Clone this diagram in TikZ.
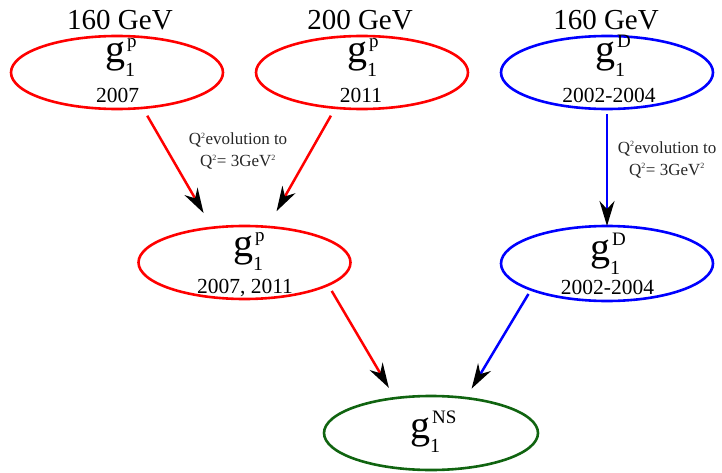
\documentclass[tikz,border=0pt]{standalone}
\usepackage{fontspec}
\setmainfont{Liberation Serif}
\usetikzlibrary{arrows.meta,shapes.geometric,positioning}
\definecolor{darkgreen}{RGB}{16,100,16}
% g_1 with an upper index, written in pt of the picture
\newcommand{\gone}[1]{{\fontsize{40}{40}\selectfont g}\rlap{\kern2pt\raisebox{15pt}{\fontsize{19}{19}\selectfont #1}}\raisebox{-14pt}{\fontsize{20}{20}\selectfont 1}}
\newcommand{\sq}{\textsuperscript{\fontsize{8}{8}\selectfont 2}}

\begin{document}
\begin{tikzpicture}[
            x=1pt, y=-1pt,
            blob/.style={draw, ellipse, line width=2.6pt, outer sep=0pt, minimum width=212pt, minimum height=73pt},
            gtext/.style={anchor=base west, inner sep=0pt},
            year/.style={anchor=base, inner sep=0pt, font=\fontsize{21.5}{21.5}\selectfont},
            energy/.style={anchor=base, inner sep=0pt, font=\fontsize{29}{29}\selectfont},
            note/.style={align=center, inner sep=0pt, font=\fontsize{17}{22}\selectfont, text=black!85},
            flow/.style={line width=2.5pt, -{Stealth[black, length=25pt, width=15pt, inset=8pt]}}
        ]
            \useasboundingbox (0,0) rectangle (722,473);
            % top row
            \node [blob, red] (p07) at (117,72.5) {};
            \node [blob, red] (p11) at (362,72.5) {};
            \node [blob, blue] (d04) at (607,72.5) {};
            \node [energy] (e1) at (120,30) {160 GeV};
            \node [energy] (e2) at (360,30) {200 GeV};
            \node [energy] (e3) at (606,30) {160 GeV};
            \node [gtext] (p07g) at (105,63) {\gone{p}};
            \node [gtext] (p11g) at (347,63) {\gone{p}};
            \node [gtext] (d04g) at (595,63) {\gone{D}};
            \node [year] (p07y) at (117.5,103) {2007};
            \node [year] (p11y) at (361,103) {2011};
            \node [year] (d04y) at (609,103) {2002-2004};

            % middle row
            \node [blob, red] (pall) at (244.5,262.5) {};
            \node [blob, blue, minimum height=75pt] (dall) at (607,263.5) {};
            \node [gtext] (pallg) at (233,256.5) {\gone{p}};
            \node [gtext] (dallg) at (590,260) {\gone{D}};
            \node [year] (pally) at (245,293) {2007, 2011};
            \node [year] (dally) at (607.5,294) {2002-2004};

            % bottom
            \node [blob, darkgreen, minimum width=214pt, minimum height=74pt] (ns) at (431,433) {};
            \node [gtext] (nsg) at (410,438.5) {\gone{NS}};

            \node [note] (evp) at (238,151) {Q\sq evolution to\\Q\sq= 3GeV\sq};
            \node [note] (evd) at (667,159.5) {Q\sq evolution to\\Q\sq= 3GeV\sq};

            \draw [flow, red, shorten <=9pt, shorten >=17pt] (p07.-54) -- (pall.133);
            \draw [flow, red, shorten <=9pt, shorten >=18pt] (p11.233) -- (pall.57);
            \draw [flow, blue, shorten <=5pt] (d04.south) -- (dall.north);
            \draw [flow, red, shorten <=7pt, shorten >=12pt] (pall.-15) -- (ns.136);
            \draw [flow, blue, shorten <=5pt, shorten >=11pt] (dall.199) -- (ns.45);
        \end{tikzpicture}
\end{document}
